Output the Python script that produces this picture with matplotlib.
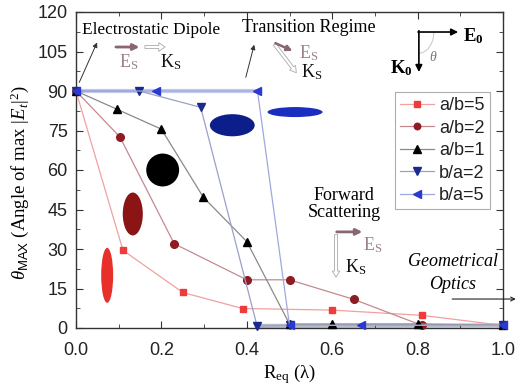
import matplotlib
matplotlib.use("Agg")
import matplotlib.pyplot as plt
from matplotlib.patches import Ellipse, Arc
from matplotlib.ticker import MultipleLocator

# ---------------- data ----------------
x_ab5 = [0.0, 0.11, 0.25, 0.39, 0.60, 0.81, 1.0]
y_ab5 = [90, 29.5, 13.5, 7.4, 6.8, 4.8, 1.0]

x_ab2 = [0.0, 0.103, 0.23, 0.40, 0.50, 0.65, 0.81, 1.0]
y_ab2 = [90, 72.5, 32, 18.3, 18.3, 10.9, 1.0, 1.0]

x_ab1 = [0.0, 0.097, 0.20, 0.298, 0.40, 0.50, 0.60, 0.80, 1.0]
y_ab1 = [90, 83, 75.5, 49.7, 32.8, 1.5, 1.5, 1.5, 1.0]

x_ba2 = [0.0, 0.148, 0.292, 0.424, 0.50, 1.0]
y_ba2 = [90, 90, 83.8, 0.8, 1.0, 1.0]

x_ba5 = [0.0, 0.187, 0.425, 0.50, 0.667, 1.0]
y_ba5 = [90, 90, 90, 1.0, 1.0, 1.0]

labels = ["a/b=5", "a/b=2", "a/b=1", "b/a=2", "b/a=5"]

xticks = [0.0, 0.2, 0.4, 0.6, 0.8, 1.0]
yticks = [0, 15, 30, 45, 60, 75, 90, 105, 120]

# ---------------- figure ----------------
plt.rcParams['mathtext.fontset'] = 'custom'
plt.rcParams['mathtext.rm'] = 'Liberation Serif'
plt.rcParams['mathtext.it'] = 'Liberation Serif:italic'
plt.rcParams['mathtext.bf'] = 'Liberation Serif:bold'
plt.rcParams['mathtext.sf'] = 'Liberation Sans'
fig = plt.figure(figsize=(5.19, 3.87), dpi=100)
ax = fig.add_axes([76/519, 1-328/387, 427/519, 316/387])

SERIF = 'Liberation Serif'
SANS = 'Liberation Sans'

# thick light line at 90 and bottom
ax.plot([x_ba5[0], x_ba5[2]], [y_ba5[0], y_ba5[2]], color='#c3c9ea', lw=3.0, zorder=1)
ax.plot([x_ba2[3], x_ba2[-1]], [y_ba2[3], y_ba2[-1]], color='#b9bccb', lw=3.0, zorder=1)

series = [
    (x_ab5, y_ab5, 's', '#ee3b3b', '#f2a0a0', 5.0),
    (x_ab2, y_ab2, 'o', '#8e1c22', '#c48a8e', 5.5),
    (x_ab1, y_ab1, '^', '#000000', '#8a8a8a', 6.0),
    (x_ba2, y_ba2, 'v', '#1c2a8e', '#9aa0c8', 6.0),
    (x_ba5, y_ba5, '<', '#2a3ad0', '#a0a8e0', 6.0),
]
for (xs, ys, m, mc, lc, ms), lab in zip(series, labels):
    ax.plot(xs, ys, color=lc, lw=0.9, marker=m, markersize=ms,
            markerfacecolor=mc, markeredgecolor=mc, label=lab, zorder=3,
            clip_on=False)

# particle shape insets
ells = [
    ((0.073, 20.0), 0.028, 20.9, '#e8302a'),
    ((0.133, 43.3), 0.047, 16.3, '#8b1515'),
    ((0.203, 60.0), 0.077, 12.5, '#000000'),
    ((0.366, 77.0), 0.105, 8.4, '#0c1e8a'),
    ((0.513, 82.0), 0.129, 3.8, '#1a2ec0'),
]
for c, w, h, col in ells:
    ax.add_patch(Ellipse(c, w, h, facecolor=col, edgecolor='none', zorder=2))

ax.set_xlim(0, 1.0)
ax.set_ylim(0, 120)
ax.set_xticks(xticks)
ax.set_yticks(yticks)
ax.set_xticklabels([f"{v:.1f}" for v in xticks])
ax.xaxis.set_minor_locator(MultipleLocator(0.1))
ax.yaxis.set_minor_locator(MultipleLocator(7.5))
ax.tick_params(which='both', direction='in', top=True, right=True,
               labelsize=13, color='#333333')
ax.tick_params(axis='x', which='major', pad=10)
ax.tick_params(axis='y', which='major', pad=6)
ax.tick_params(which='major', length=5)
ax.tick_params(which='minor', length=3)
for lbl in ax.get_xticklabels() + ax.get_yticklabels():
    lbl.set_fontfamily(SANS)
    lbl.set_color('#222222')
for sp in ax.spines.values():
    sp.set_linewidth(1.0)
    sp.set_color('#333333')

ax.set_xlabel(r'R$_{\rm eq}$ (λ)', fontfamily=SERIF, fontsize=13.5, labelpad=2)
ax.set_ylabel(r'$\theta_{\mathsf{MAX}}$ (Angle of max $|E_t|^2$)', fontfamily=SERIF,
              fontsize=13.5, labelpad=2)
ax.yaxis.set_label_coords(-0.105, 0.46)

leg = ax.legend(loc='upper left', bbox_to_anchor=(0.747, 0.747), fontsize=13,
                frameon=True, fancybox=False, edgecolor='#999999',
                handlelength=1.85, labelspacing=0.3, borderpad=0.3,
                handletextpad=0.3, borderaxespad=0.0, markerscale=0.85)
leg.get_frame().set_linewidth(0.8)
for t in leg.get_texts():
    t.set_fontfamily(SANS)
    t.set_color('#222222')

# ---------------- annotations ----------------
ES_COL = '#8a6670'
ES_TXT = '#9a8088'
afs = 13
sfs = 13

# Electrostatic dipole
ax.text(0.014, 113.2, 'Electrostatic Dipole', fontfamily=SERIF, fontsize=12.4,
        ha='left', va='center')
ax.annotate('', xy=(0.052, 109.4), xytext=(0.005, 92.3),
            arrowprops=dict(arrowstyle='-|>', color='#333333', lw=0.7,
                            mutation_scale=7))
ax.annotate('', xy=(0.155, 106.7), xytext=(0.087, 106.7),
            arrowprops=dict(arrowstyle='-|>', color=ES_COL, lw=2.0,
                            mutation_scale=9))
ax.annotate('', xy=(0.215, 106.7), xytext=(0.155, 106.7),
            arrowprops=dict(arrowstyle='simple,head_width=0.7,tail_width=0.25',
                            fc='white', ec='#aaaaaa', lw=0.6, mutation_scale=9))
ax.text(0.124, 101, r'E$_{\rm S}$', fontfamily=SERIF, fontsize=sfs, color=ES_TXT,
        ha='center', va='center')
ax.text(0.222, 101, r'K$_{\rm S}$', fontfamily=SERIF, fontsize=sfs, color='#111111',
        ha='center', va='center')

# Transition regime
ax.text(0.389, 114, 'Transition Regime', fontfamily=SERIF, fontsize=afs,
        ha='left', va='center')
ax.annotate('', xy=(0.419, 108.6), xytext=(0.396, 94.2),
            arrowprops=dict(arrowstyle='-|>', color='#333333', lw=0.7,
                            mutation_scale=7))
ax.annotate('', xy=(0.52, 96.1), xytext=(0.461, 108.6),
            arrowprops=dict(arrowstyle='simple,head_width=0.6,tail_width=0.25',
                            fc='white', ec='#aaaaaa', lw=0.6, mutation_scale=9))
ax.annotate('', xy=(0.513, 104.8), xytext=(0.461, 108.6),
            arrowprops=dict(arrowstyle='-|>', color=ES_COL, lw=1.8,
                            mutation_scale=8))
ax.text(0.522, 104.5, r'E$_{\rm S}$', fontfamily=SERIF, fontsize=sfs, color=ES_TXT,
        ha='left', va='center')
ax.text(0.526, 97.0, r'K$_{\rm S}$', fontfamily=SERIF, fontsize=sfs, color='#111111',
        ha='left', va='center')

# incident field
ax.annotate('', xy=(0.895, 112.4), xytext=(0.801, 112.4),
            arrowprops=dict(arrowstyle='-|>', color='#000000', lw=1.2,
                            mutation_scale=10, shrinkA=0, shrinkB=0))
ax.annotate('', xy=(0.803, 97.2), xytext=(0.803, 112.9),
            arrowprops=dict(arrowstyle='-|>', color='#000000', lw=1.2,
                            mutation_scale=10, shrinkA=0, shrinkB=0))
ax.text(0.906, 110.8, r'$\mathbf{E_0}$', fontsize=13.5, ha='left', va='center')
ax.text(0.789, 98.7, r'$\mathbf{K_0}$', fontsize=13.5, ha='right', va='center')
ax.text(0.836, 102.8, r'$\theta$', fontsize=10, color='#777777', ha='center', va='center')
ax.add_patch(Arc((0.803, 112.4), 0.07, 16, theta1=270, theta2=360,
                 color='#cccccc', lw=0.8))

# forward scattering
ax.text(0.628, 50.5, 'Forward', fontfamily=SERIF, fontsize=afs, ha='center', va='center')
ax.text(0.628, 43.7, 'Scattering', fontfamily=SERIF, fontsize=afs, ha='center', va='center')
ax.annotate('', xy=(0.609, 18.2), xytext=(0.609, 36.5),
            arrowprops=dict(arrowstyle='simple,head_width=0.6,tail_width=0.25',
                            fc='white', ec='#aaaaaa', lw=0.6, mutation_scale=9))
ax.annotate('', xy=(0.677, 36.5), xytext=(0.604, 36.5),
            arrowprops=dict(arrowstyle='-|>', color=ES_COL, lw=2.0,
                            mutation_scale=9))
ax.text(0.672, 31.3, r'E$_{\rm S}$', fontfamily=SERIF, fontsize=sfs, color=ES_TXT,
        ha='left', va='center')
ax.text(0.630, 23.2, r'K$_{\rm S}$', fontfamily=SERIF, fontsize=sfs, color='#111111',
        ha='left', va='center')

# geometrical optics
ax.text(0.882, 25.3, 'Geometrical', fontfamily=SERIF, fontstyle='italic',
        fontsize=afs, ha='center', va='center')
ax.text(0.883, 16.5, 'Optics', fontfamily=SERIF, fontstyle='italic',
        fontsize=afs, ha='center', va='center')
ax.annotate('', xy=(1.03, 11.0), xytext=(0.881, 11.0),
            annotation_clip=False,
            arrowprops=dict(arrowstyle='->', color='#222222', lw=0.8,
                            mutation_scale=7, shrinkA=0, shrinkB=0))

fig.savefig('out.png', dpi=100)
